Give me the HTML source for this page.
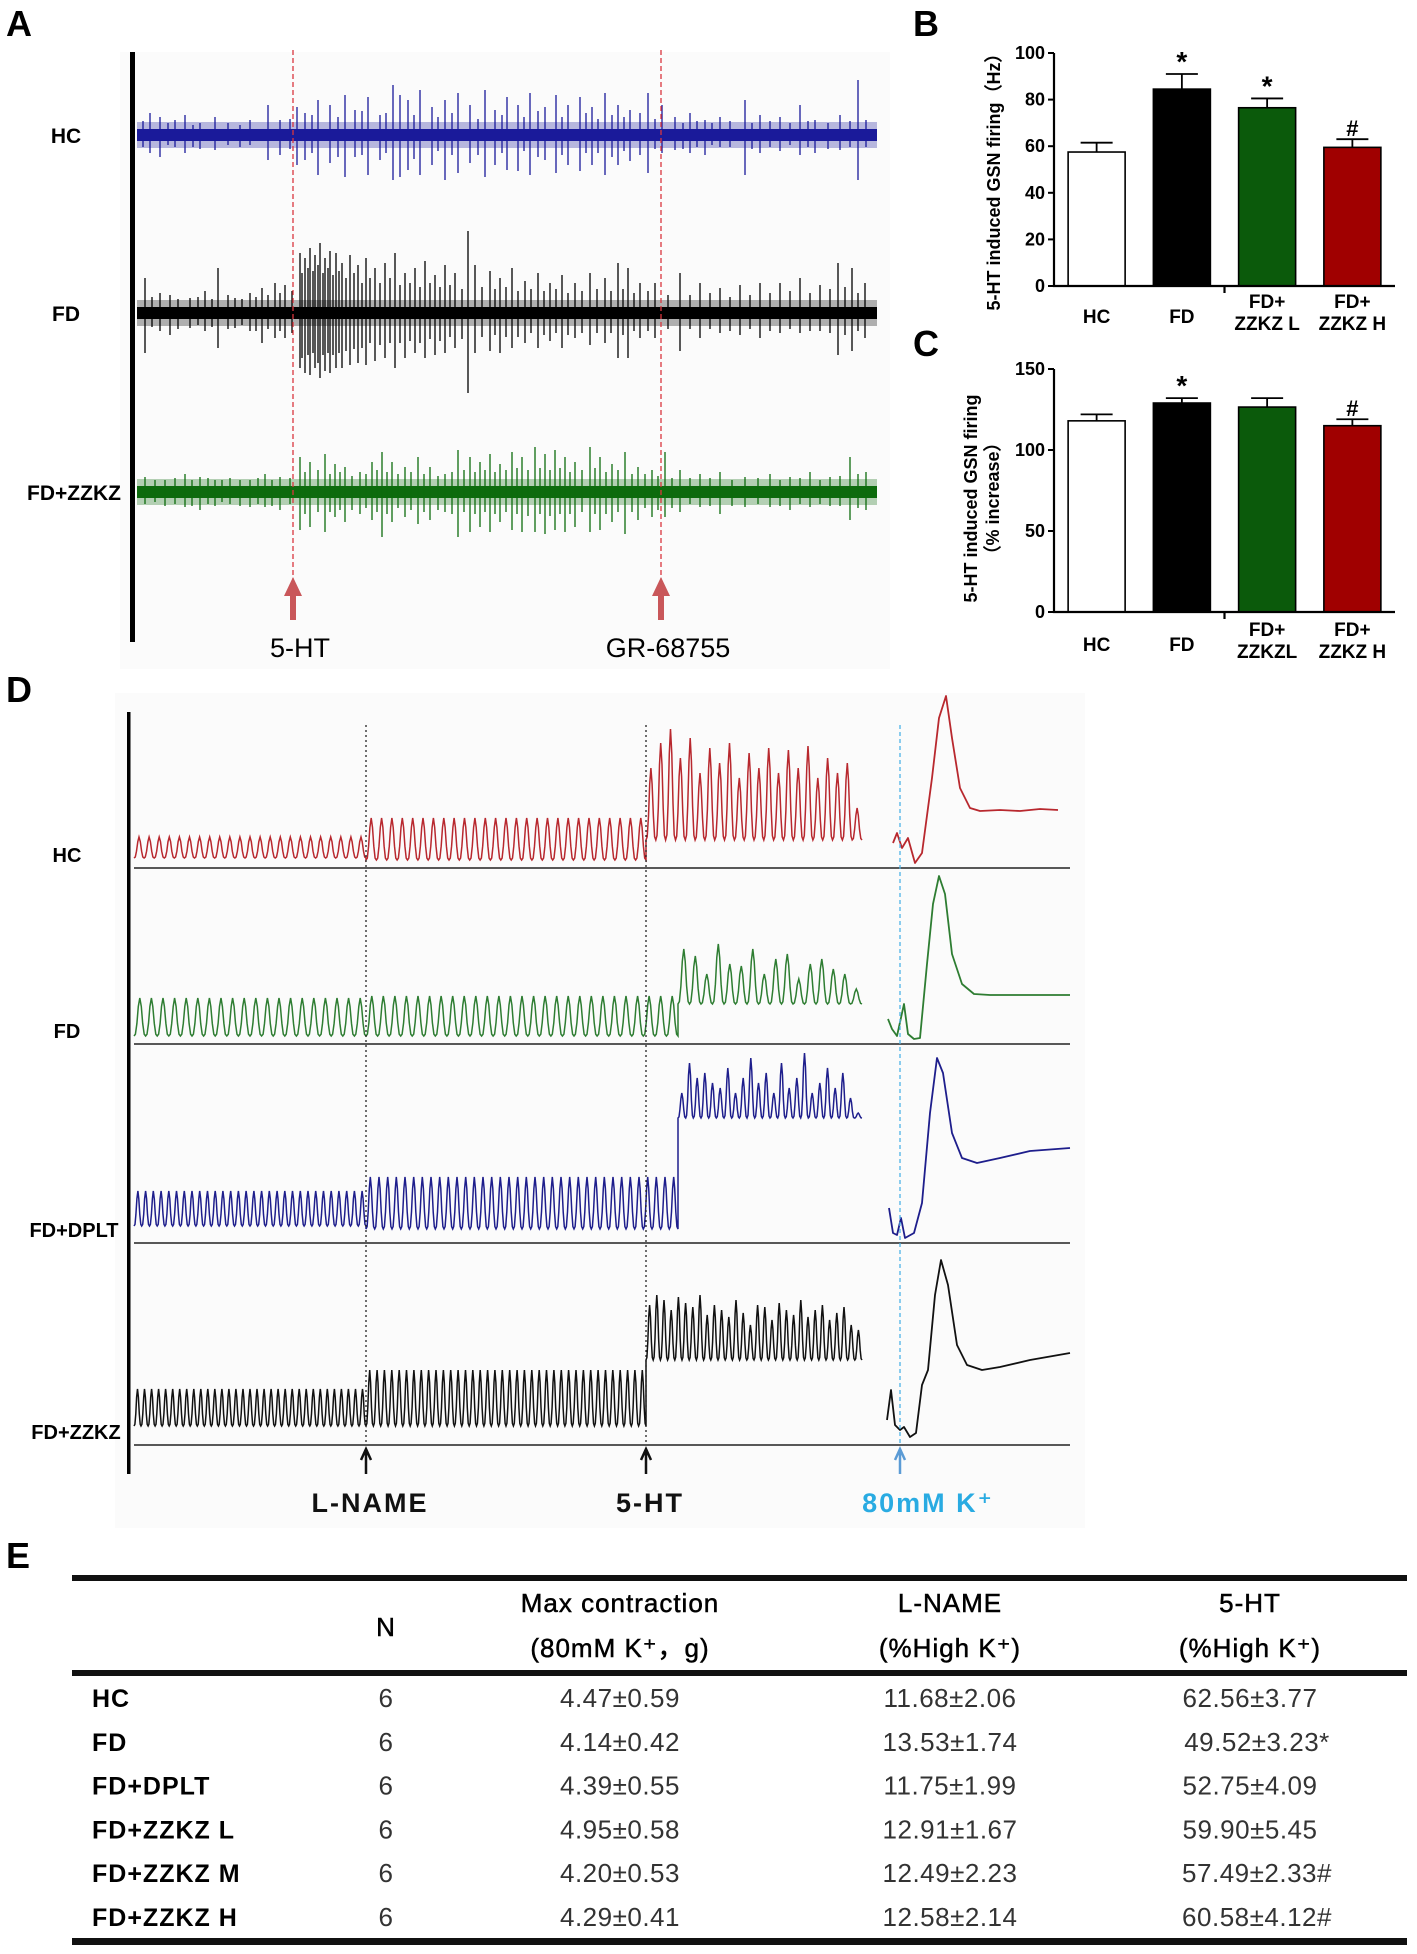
<!DOCTYPE html>
<html><head><meta charset="utf-8"><style>
html,body{margin:0;padding:0;background:#fff}
svg{display:block}
text{font-family:"Liberation Sans","DejaVu Sans",sans-serif}
</style></head><body>
<svg id="fig" width="1417" height="1954" viewBox="0 0 1417 1954" xmlns="http://www.w3.org/2000/svg">
<rect x="120" y="52" width="770" height="617" fill="#fbfbfb"/>
<rect x="115" y="693" width="970" height="835" fill="#fbfbfb"/>
<g id="gA"></g>
<g id="gB"></g>
<g id="gC"></g>
<g id="gD"></g>
<g id="gE"></g>
</svg>
<script>
// ---------- Panel B / C data ----------
const barCats = ["HC","FD","FD+|ZZKZ L","FD+|ZZKZ H"];
const barCatsC = ["HC","FD","FD+|ZZKZL","FD+|ZZKZ H"];
const barColors = ["#ffffff","#000000","#0b5a0b","#a00000"];
const bValues = [57.5, 84.5, 76.5, 59.5];
const bErrors = [4, 6.5, 4, 3.5];
const bMarks = ["", "*", "*", "#"];
const bTicks = [0,20,40,60,80,100];
const cValues = [118, 129, 126.5, 115];
const cErrors = [4, 3, 5.5, 4];
const cMarks = ["", "*", "", "#"];
const cTicks = [0,50,100,150];

// ---------- Panel A spike data [x, up, down] ----------
const hcSpikes = [[150,22,18],[160,18,22],[175,15,12],[185,20,18],[200,12,14],[215,18,15],[250,15,10],[268,30,25],[280,15,20],[297,28,30],[305,22,25],[318,35,40],[330,30,28],[345,40,42],[355,25,22],[368,38,40],[380,20,25],[393,50,45],[400,40,42],[408,35,35],[420,45,40],[432,28,30],[445,35,45],[458,42,38],[470,30,28],[485,45,42],[495,25,30],[507,38,35],[518,30,36],[530,42,40],[545,28,25],[556,40,38],[568,30,30],[580,38,36],[592,28,30],[605,42,40],[618,30,30],[630,25,26],[648,42,38],[662,30,18],[675,18,15],[690,22,18],[705,15,20],[720,18,12],[745,35,40],[760,20,18],[780,18,16],[800,30,20],[815,15,18],[840,20,15],[858,55,45],[866,15,12],[143,14,12],[168,12,10],[193,10,12],[228,12,10],[240,10,12],[290,16,14],[312,20,18],[338,18,22],[362,24,20],[386,22,18],[414,20,24],[438,18,16],[452,22,20],[478,16,20],[502,20,18],[524,18,16],[538,24,22],[562,18,20],[586,22,18],[598,16,18],[612,20,22],[624,18,16],[640,22,20],[655,16,14],[683,12,14],[697,14,12],[712,12,10],[730,14,12],[752,12,14],[770,14,12],[790,12,10],[808,14,12],[828,12,14],[850,14,12]];
const fdSpikes = [[145,35,40],[160,20,18],[170,18,22],[190,15,15],[205,22,18],[218,45,35],[235,15,15],[250,20,18],[262,25,30],[275,30,25],[285,28,25],[300,60,55],[305,55,60],[310,65,62],[315,58,55],[320,70,65],[325,55,58],[330,62,60],[336,60,55],[342,50,55],[350,58,52],[358,48,50],[366,55,52],[375,45,48],[385,50,45],[395,60,55],[405,40,45],[415,45,40],[425,52,45],[435,38,42],[445,48,40],[455,40,35],[468,82,80],[475,48,40],[490,42,38],[500,35,40],[512,45,35],[525,32,30],[538,40,35],[550,30,28],[562,38,35],[575,30,25],[590,40,32],[605,35,30],[618,50,45],[628,45,45],[640,30,25],[655,30,25],[680,40,38],[700,30,25],[720,25,20],[740,28,22],[760,30,25],[780,30,20],[800,35,20],[820,28,18],[838,50,42],[852,45,38],[865,30,25],[152,16,14],[178,14,16],[198,16,12],[212,14,14],[228,18,16],[242,14,12],[256,16,18],[268,18,16],[280,20,18],[292,22,20],[302,40,45],[308,45,42],[313,42,40],[318,48,50],[323,40,42],[328,45,40],[333,38,42],[339,42,40],[346,35,38],[354,40,36],[362,30,35],[370,35,30],[380,30,32],[390,35,30],[400,28,30],[410,30,28],[420,26,30],[430,30,26],[440,26,28],[450,28,24],[462,24,26],[482,26,24],[495,24,22],[506,26,24],[518,22,24],[531,24,20],[544,22,22],[556,24,20],[568,20,22],[582,22,20],[597,24,20],[611,22,20],[623,24,22],[634,20,18],[648,22,18],[668,18,16],[690,18,16],[710,20,16],[730,16,18],[750,18,16],[770,20,18],[790,22,16],[810,20,18],[830,24,20],[845,26,22],[858,20,18]];
const zzSpikes = [[145,15,12],[165,12,14],[185,18,15],[200,15,18],[215,12,14],[230,14,12],[250,12,15],[265,18,15],[280,15,18],[300,35,38],[310,30,35],[325,38,40],[335,28,25],[345,25,30],[360,20,22],[372,30,28],[382,40,45],[392,30,30],[405,25,25],[418,35,32],[430,25,28],[445,18,20],[458,42,45],[470,35,40],[480,30,35],[490,38,40],[500,28,30],[512,40,38],[522,35,40],[535,45,40],[545,38,42],[555,42,38],[565,35,40],[575,30,35],[590,45,40],[600,35,38],[612,28,30],[625,40,42],[638,25,28],[652,22,25],[665,40,25],[680,22,20],[700,18,15],[720,20,22],[745,15,15],[770,18,15],[790,15,18],[810,20,15],[830,15,14],[850,35,28],[866,20,18],[155,12,10],[175,14,12],[192,12,14],[208,14,12],[222,12,10],[240,12,14],[258,14,12],[272,12,14],[290,14,12],[305,20,22],[318,22,20],[330,18,20],[340,20,18],[352,16,18],[366,18,16],[377,22,20],[387,20,22],[398,18,16],[411,20,18],[424,18,20],[438,16,18],[452,20,22],[464,22,20],[475,20,22],[485,22,20],[495,20,22],[506,22,20],[517,24,22],[528,22,24],[540,24,22],[550,22,24],[560,24,22],[570,20,22],[582,22,20],[595,24,22],[606,20,22],[618,22,20],[632,18,20],[645,18,16],[658,16,18],[672,14,16],[690,14,12],[710,14,14],[732,12,14],[758,14,12],[780,12,14],[800,14,12],[820,12,12],[840,16,14],[858,18,16]];

// ---------- Panel D data ----------
const hcSeg3Peaks = [100,125,139,110,130,95,120,105,125,90,115,100,120,95,118,100,122,90,110,95,105,60];
const fdSeg3Peaks = [95,88,70,100,80,78,95,70,85,90,65,80,85,75,70,55];
const dpSeg3Peaks = [150,180,165,170,160,155,175,150,165,185,160,170,150,180,155,165,190,150,160,175,155,170,145,130];
const zzSeg3Peaks = [140,150,145,135,148,142,138,150,130,140,135,128,145,132,120,140,138,125,142,135,130,145,128,135,140,125,132,138,120,115];
const hcKResp = [[893,-25],[897,-35],[902,-20],[908,-30],[915,-5],[922,-15],[932,-90],[939,-150],[946,-172],[952,-130],[960,-80],[970,-60],[980,-57],[1000,-58],[1020,-57],[1040,-59],[1058,-58]];
const fdKResp = [[888,-25],[892,-15],[897,-8],[904,-40],[908,-10],[914,-5],[920,-6],[927,-80],[933,-140],[939,-168],[945,-150],[952,-90],[962,-60],[974,-50],[990,-49],[1070,-49]];
const dpKResp = [[889,-35],[893,-10],[897,-8],[901,-25],[905,-5],[914,-10],[922,-40],[930,-130],[937,-185],[943,-170],[952,-110],[962,-85],[977,-80],[1000,-85],[1030,-92],[1070,-95]];
const zzKResp = [[887,-25],[891,-55],[895,-20],[900,-15],[904,-18],[910,-8],[916,-12],[922,-60],[928,-75],[935,-150],[941,-185],[948,-160],[957,-100],[967,-80],[982,-75],[1000,-78],[1030,-85],[1070,-92]];

// ---------- Panel E data ----------
const tRows = ["HC","FD","FD+DPLT","FD+ZZKZ L","FD+ZZKZ M","FD+ZZKZ H"];
const tN = ["6","6","6","6","6","6"];
const tMax = ["4.47±0.59","4.14±0.42","4.39±0.55","4.95±0.58","4.20±0.53","4.29±0.41"];
const tLname = ["11.68±2.06","13.53±1.74","11.75±1.99","12.91±1.67","12.49±2.23","12.58±2.14"];
const t5ht = ["62.56±3.77","49.52±3.23*","52.75±4.09","59.90±5.45","57.49±2.33#","60.58±4.12#"];

const NS="http://www.w3.org/2000/svg";
function mk(parent, tag, attrs, txt){
  const e=document.createElementNS(NS,tag);
  for(const k in attrs) e.setAttribute(k,attrs[k]);
  if(txt!==undefined) e.textContent=txt;
  parent.appendChild(e); return e;
}

// ---------- Panel A ----------
(function(){
  const g=document.getElementById('gA');
  let t=mk(g,'text',{x:6,y:36,'font-size':36,'font-weight':'bold'},'A');
   
  let l=mk(g,'rect',{x:130,y:52,width:5,height:590,fill:'#000'});
   
  const traces=[{name:'HC',cy:135,color:'#1a1a9a',sp:hcSpikes,lx:66},{name:'FD',cy:313,color:'#000',sp:fdSpikes,lx:66},{name:'FD+ZZKZ',cy:492,color:'#0d6b0d',sp:zzSpikes,lx:74}];
  traces.forEach(tr=>{
    const tg=mk(g,'g',{});
    
    
    mk(tg,'rect',{x:137,y:tr.cy-13,width:740,height:26,fill:tr.color,opacity:0.3});
    mk(tg,'rect',{x:137,y:tr.cy-6,width:740,height:12,fill:tr.color});
    tr.sp.forEach(s=>{
      const ln=mk(tg,'line',{x1:s[0],x2:s[0],y1:tr.cy-s[1],y2:tr.cy+s[2],stroke:tr.color,'stroke-width':1.3});
       
    });
    const lb=mk(g,'text',{x:tr.lx,y:tr.cy+8,'font-size':21,'font-weight':'bold','text-anchor':'middle'},tr.name);
     
  });
  [[293,'5-HT'],[661,'GR-68755']].forEach(m=>{
    const d=mk(g,'line',{x1:m[0],x2:m[0],y1:50,y2:615,stroke:'#d9363e','stroke-width':1.3,'stroke-dasharray':'5,3'});
     
    const a=mk(g,'path',{d:`M${m[0]-3},620 L${m[0]-3},596 L${m[0]-9},596 L${m[0]},577 L${m[0]+9},596 L${m[0]+3},596 L${m[0]+3},620 Z`,fill:'#c9575a'});
     
    const tx=mk(g,'text',{x:m[0]+7,y:657,'font-size':27,'text-anchor':'middle','font-family':'DejaVu Sans, sans-serif'},m[1]);
     
  });
})();

// ---------- Bar charts ----------
function barChart(gid, letter, ly, cats, vals, errs, marks, ticks, ymax, ax0, y0, ytop, titleLines, titleX, labY){
  const g=document.getElementById(gid);
  const x0=ax0, x1=1395;
  const ys=v=>y0-(v/ymax)*(y0-ytop);
  const band=(x1-x0)/cats.length;
  const xc=i=>x0+(i+0.5)*band;
  let t=mk(g,'text',{x:913,y:ly,'font-size':36,'font-weight':'bold'},letter);
   
  vals.forEach((v,i)=>{
    const w=57;
    const r=mk(g,'rect',{x:xc(i)-w/2,y:ys(v),width:w,height:y0-ys(v),fill:barColors[i],stroke:'#000','stroke-width':1.6});
    
    
    const e=mk(g,'path',{d:`M${xc(i)},${ys(v)} L${xc(i)},${ys(v+errs[i])} M${xc(i)-16},${ys(v+errs[i])} L${xc(i)+16},${ys(v+errs[i])}`,stroke:'#000','stroke-width':1.8,fill:'none'});
     
    if(marks[i]){
      const m=mk(g,'text',{x:xc(i),y:ys(v+errs[i])-3,'font-size':marks[i]=='*'?28:22,'font-weight':'bold','text-anchor':'middle'},marks[i]);
       
    }
    const parts=cats[i].split('|');
    if(parts.length==1){
      const lb=mk(g,'text',{x:xc(i),y:labY+7,'font-size':19,'font-weight':'bold','text-anchor':'middle'},parts[0]);
       
    } else {
      const lb=mk(g,'text',{x:xc(i),y:labY-8,'font-size':19,'font-weight':'bold','text-anchor':'middle'},parts[0]);
       
      const lb2=mk(g,'text',{x:xc(i),y:labY+14,'font-size':19,'font-weight':'bold','text-anchor':'middle'},parts[1]);
       
    }
  });
  const ax=mk(g,'path',{d:`M${x0},${ytop} L${x0},${y0} L${x1},${y0} M${x0+2*band},${y0} L${x0+2*band},${y0+7}`,stroke:'#000','stroke-width':2.2,fill:'none'});
   
  ticks.forEach(tv=>{
    const tk=mk(g,'line',{x1:x0-6,x2:x0,y1:ys(tv),y2:ys(tv),stroke:'#000','stroke-width':2});
     
    const tl=mk(g,'text',{x:x0-9,y:ys(tv)+6,'font-size':18,'font-weight':'bold','text-anchor':'end'},String(tv));
     
  });
  const cy=(y0+ytop)/2+8;
  titleLines.forEach((tl,k)=>{
    const tt=mk(g,'text',{x:titleX+k*22,y:cy,'font-size':18,'font-weight':'bold','text-anchor':'middle',transform:`rotate(-90 ${titleX+k*22} ${cy})`},tl);
     
  });
}
barChart('gB','B',36,barCats,bValues,bErrors,bMarks,bTicks,100,1054,286,53,['5-HT induced GSN firing（Hz）'],1000,316);
barChart('gC','C',356,barCatsC,cValues,cErrors,cMarks,cTicks,150,1054,612,369,['5-HT induced GSN firing','（% increase）'],977,644);

// ---------- Panel D ----------
(function(){
  const g=document.getElementById('gD');
  let t=mk(g,'text',{x:6,y:702,'font-size':36,'font-weight':'bold'},'D');
   
  let ax=mk(g,'rect',{x:127,y:712,width:3.5,height:762,fill:'#000'});
   
  const rows=[
    {name:'HC',base:868,color:'#b8282e',lx:67,segs:[[134,366,23,-10,-31],[366,646,27,-8,-50],[646,862,22,-28,hcSeg3Peaks]],k:hcKResp},
    {name:'FD',base:1044,color:'#2e7d32',lx:67,segs:[[134,366,20,-8,-46],[366,678,27,-8,-48],[678,862,16,-40,fdSeg3Peaks]],k:fdKResp},
    {name:'FD+DPLT',base:1243,color:'#1e1e8c',lx:74,segs:[[134,366,30,-17,-52],[366,678,36,-14,-66],[678,862,24,-125,dpSeg3Peaks]],k:dpKResp},
    {name:'FD+ZZKZ',base:1445,color:'#111',lx:76,segs:[[134,366,33,-19,-56],[366,646,38,-19,-75],[646,862,30,-85,zzSeg3Peaks]],k:zzKResp}
  ];
  rows.forEach(r=>{
    const bl=mk(g,'line',{x1:134,x2:1070,y1:r.base,y2:r.base,stroke:'#222','stroke-width':1.6});
     
    let d='';
    r.segs.forEach(s=>{
      const [x0,x1,n,tr,pk]=s;
      const per=(x1-x0)/n;
      for(let c=0;c<n;c++){
        const p=Array.isArray(pk)?-pk[c]:pk;
        for(let j=0;j<=8;j++){
          const x=x0+c*per+per*j/8;
          const ph=(1-Math.cos(2*Math.PI*j/8))/2;
          const y=r.base+tr+(p-tr)*Math.pow(ph,1.6);
          d+=(d?'L':'M')+x.toFixed(1)+','+y.toFixed(1);
        }
      }
    });
    const pth=mk(g,'path',{d:d,fill:'none',stroke:r.color,'stroke-width':1.5});
     
    const kd=r.k.map((p,i)=>(i?'L':'M')+p[0]+','+(r.base+p[1])).join('');
    const kp=mk(g,'path',{d:kd,fill:'none',stroke:r.color,'stroke-width':1.8,'stroke-linejoin':'round'});
     
    const lb=mk(g,'text',{x:r.lx,y:r.base-6,'font-size':20,'font-weight':'bold','text-anchor':'middle'},r.name);
     
  });
  [[366,'#222','2,3','L-NAME'],[646,'#222','2,3','5-HT'],[900,'#4db3e6','4,3','80mM K⁺']].forEach(m=>{
    const ln=mk(g,'line',{x1:m[0],x2:m[0],y1:725,y2:1445,stroke:m[1],'stroke-width':1.3,'stroke-dasharray':m[2]});
     
    const col=m[0]==900?'#5b9bd5':'#111';
    const ar=mk(g,'path',{d:`M${m[0]},1474 L${m[0]},1452 M${m[0]-5},1460 L${m[0]},1449 L${m[0]+5},1460`,stroke:col,'stroke-width':2.5,fill:'none'});
     
    const tx=mk(g,'text',{x:m[0]+(m[0]==900?28:4),y:1512,'font-size':27,'font-weight':'bold','text-anchor':'middle','letter-spacing':2,fill:m[0]==900?'#29abe2':'#111'},m[3]);
     
  });
})();

// ---------- Panel E ----------
(function(){
  const g=document.getElementById('gE');
  let t=mk(g,'text',{x:6,y:1568,'font-size':36,'font-weight':'bold'},'E');
   
  [[1575,6],[1670,6],[1938,7]].forEach(r=>{
    const rr=mk(g,'rect',{x:72,y:r[0],width:1335,height:r[1],fill:'#111'});
     
  });
  const cols=[386,620,950,1250];
  const hdr=[['N',''],['Max contraction','(80mM K⁺，g)'],['L-NAME','(%High K⁺)'],['5-HT','(%High K⁺)']];
  hdr.forEach((h,i)=>{
    if(i==0){
      const a=mk(g,'text',{x:cols[i],y:1636,'font-size':26,'text-anchor':'middle','stroke':'#000','stroke-width':0.5,'letter-spacing':1},h[0]);
       
    } else {
      const a=mk(g,'text',{x:cols[i],y:1612,'font-size':26,'text-anchor':'middle','stroke':'#000','stroke-width':0.5,'letter-spacing':1},h[0]);
       
      const b=mk(g,'text',{x:cols[i],y:1657,'font-size':26,'text-anchor':'middle','stroke':'#000','stroke-width':0.5,'letter-spacing':1},h[1]);
       
    }
  });
  tRows.forEach((r,i)=>{
    const y=1707+i*43.8;
    const a=mk(g,'text',{x:92,y:y,'font-size':25,'font-weight':'bold','letter-spacing':1},r);
     
    [tN[i],tMax[i],tLname[i],t5ht[i]].forEach((v,j)=>{
      const c=mk(g,'text',{x:cols[j]+(j==3&&/[*#]$/.test(v)?7:0),y:y,'font-size':26,'text-anchor':'middle','fill':'#333','letter-spacing':0.5},v);
       
    });
  });
})();
</script>
</body></html>
